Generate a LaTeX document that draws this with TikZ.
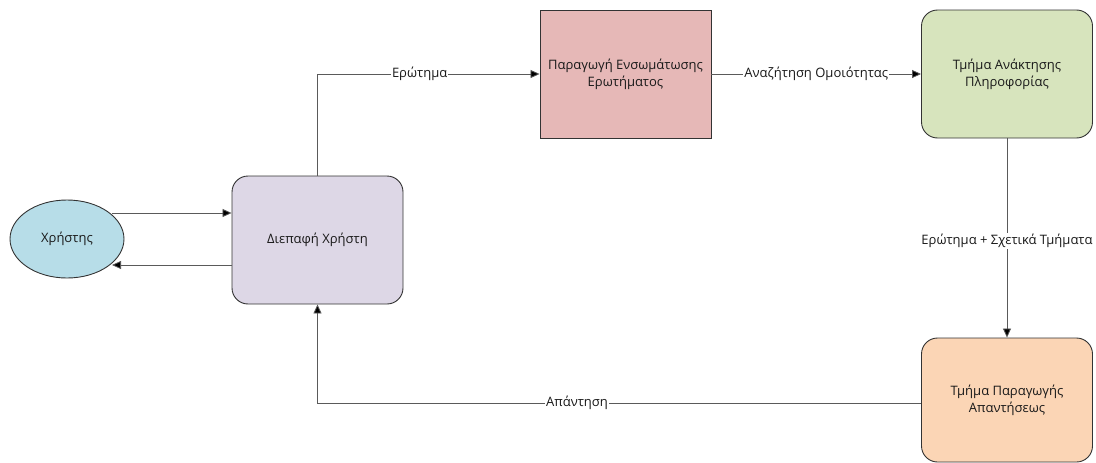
\documentclass[tikz,border=0pt]{standalone}
\usepackage{fontspec}
\setmainfont{Open Sans}
\usetikzlibrary{shapes.geometric,arrows.meta}
\definecolor{userblue}{HTML}{B7DDE8}
\definecolor{uilav}{HTML}{DDD7E6}
\definecolor{embpink}{HTML}{E6B8B7}
\definecolor{retgreen}{HTML}{D7E4BD}
\definecolor{genorange}{HTML}{FBD5B5}
\definecolor{edge}{HTML}{333333}
\definecolor{wire}{HTML}{5A5A5A}
\begin{document}
\begin{tikzpicture}[x=1pt,y=-1pt,
  every node/.style={font=\fontsize{13}{17}\selectfont, text=black!90},
  block/.style={draw=edge, line width=0.9pt, minimum width=171pt, minimum height=128pt, align=center, inner sep=2pt},
  rblock/.style={block, rounded corners=16pt},
  link/.style={draw=wire, line width=0.8pt, -{Triangle[length=9pt,width=8pt,fill=black]}},
  lbl/.style={fill=white, inner sep=1pt}]
\useasboundingbox (0,0) rectangle (1096,463);

\node[ellipse, draw=edge, line width=0.9pt, fill=userblue, minimum width=114pt, minimum height=78pt] (user) at (67,239) {Χρήστης};
\node[rblock, fill=uilav] (ui) at (317.5,240) {Διεπαφή Χρήστη};
\node[block, fill=embpink] (emb) at (625.5,74) {Παραγωγή Ενσωμάτωσης\\Ερωτήματος};
\node[rblock, fill=retgreen] (ret) at (1007,74) {Τμήμα Ανάκτησης\\Πληροφορίας};
\node[rblock, fill=genorange, minimum height=124pt] (gen) at (1007,400) {Τμήμα Παραγωγής\\Απαντήσεως};

% two parallel arrows between the user and the interface
\coordinate (ua) at (112,213);
\coordinate (ub) at (112,265);
\draw[link] (ua) -- (ui.west |- ua);
\draw[link] (ui.west |- ub) -- (ub);

\draw[link] (ui.north) |- node[lbl, pos=0.73] {Ερώτημα} (emb.west);
\draw[link] (emb.east) -- node[lbl] {Αναζήτηση Ομοιότητας} (ret.west);
\draw[link] (ret.south) -- node[lbl, pos=0.515] {Ερώτημα + Σχετικά Τμήματα} (gen.north);
\draw[link] (gen.west |- 0,403) -| node[lbl, pos=0.285] {Απάντηση} (ui.south);
\end{tikzpicture}
\end{document}
